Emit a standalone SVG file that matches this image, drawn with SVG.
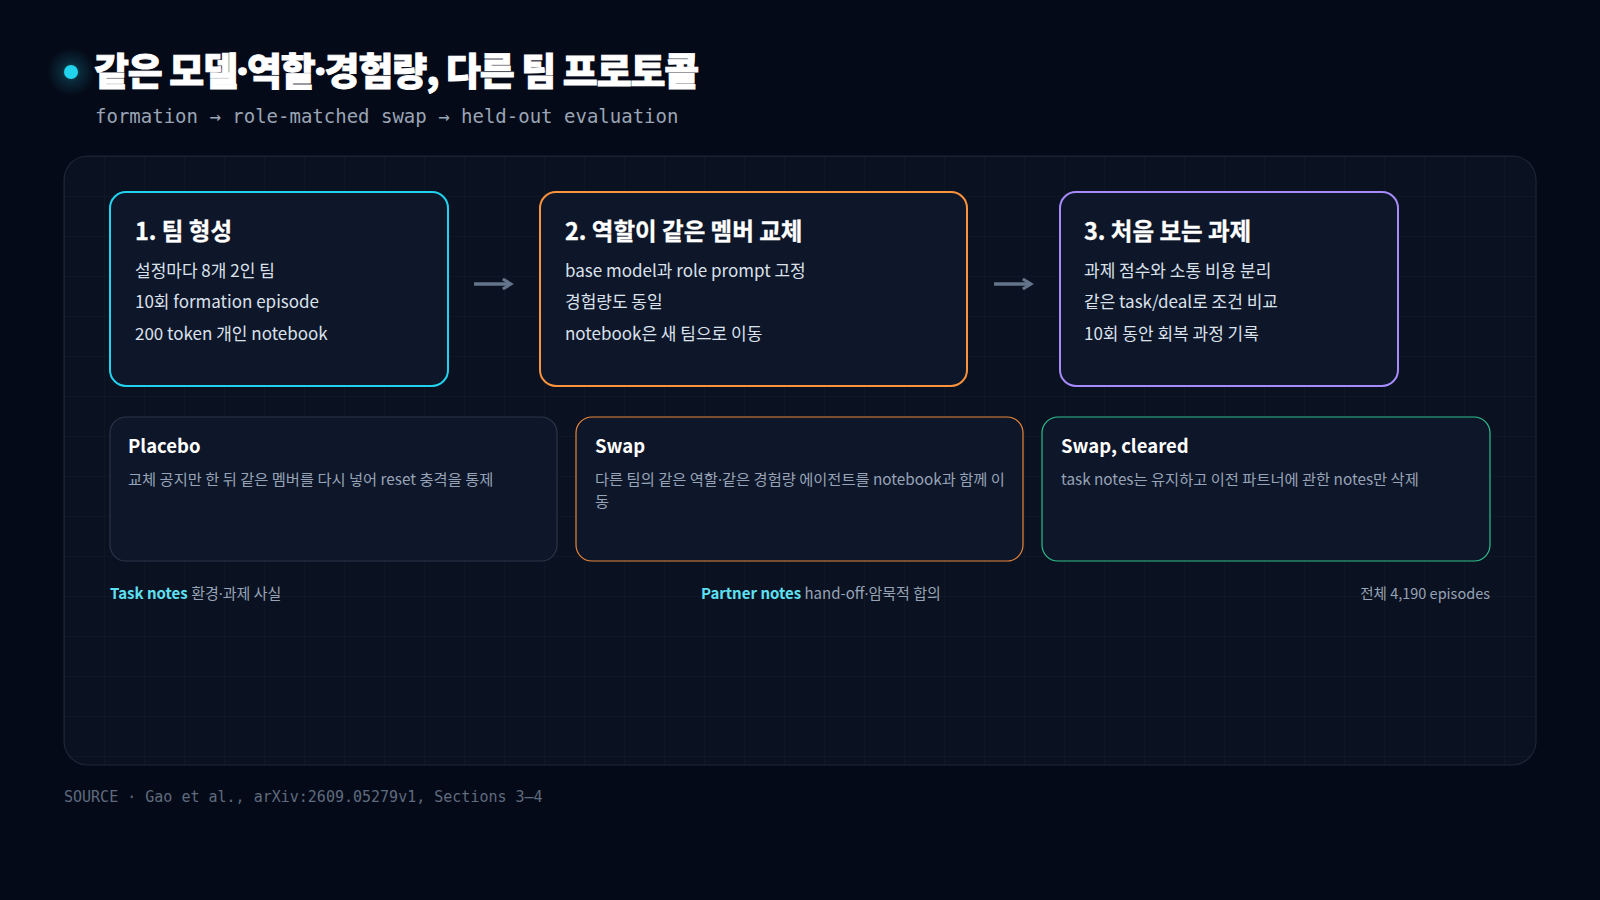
<svg xmlns="http://www.w3.org/2000/svg" width="1600" height="900" viewBox="0 0 1600 900">
  <defs>
    <style>
      .kr { font-family: "Noto Sans CJK KR", "Noto Sans", sans-serif; }
      .mono { font-family: "DejaVu Sans Mono", "Liberation Mono", monospace; }
      .dot { font-family: "Noto Sans", "Liberation Sans", sans-serif; }
      .title { font-size: 38px; font-weight: 900; fill: #ffffff; stroke: #ffffff; stroke-width: 0.9px; letter-spacing: -1.1px; }
      .sub { font-size: 19px; fill: #9aa5b5; }
      .ctitle { font-size: 23.5px; font-weight: 700; fill: #ffffff; stroke: #ffffff; stroke-width: 0.3px; }
      .cbody { font-size: 17px; fill: #dbe2ec; }
      .ntitle { font-size: 18.5px; font-weight: 700; fill: #ffffff; }
      .nbody { font-size: 15.3px; fill: #97a3b6; }
      .lbl { font-size: 15px; fill: #97a3b6; }
      .lblk { font-weight: 700; fill: #5ee0f2; }
      .src { font-size: 15px; fill: #5f6b7e; }
      .card { fill: #0e1629; stroke-width: 2; }
      .note { fill: #0e1629; stroke-width: 1.2; }
      .conn { stroke: #64748b; stroke-width: 3.5; fill: none; stroke-linecap: butt; }
    </style>
    <pattern id="grid" x="64" y="156" width="40" height="40" patternUnits="userSpaceOnUse">
      <path d="M 40 0 L 0 0 0 40" fill="none" stroke="#94a3b8" stroke-opacity="0.07" stroke-width="1"/>
    </pattern>
    <radialGradient id="glow" cx="0.5" cy="0.5" r="0.5">
      <stop offset="0" stop-color="#22d3ee" stop-opacity="0.45"/>
      <stop offset="0.4" stop-color="#22d3ee" stop-opacity="0.15"/>
      <stop offset="1" stop-color="#22d3ee" stop-opacity="0"/>
    </radialGradient>
    <marker id="ah" viewBox="0 0 10 10" refX="8" refY="5" markerWidth="3.6" markerHeight="3.6" orient="auto" markerUnits="strokeWidth">
      <path d="M 1.5 1 L 8 5 L 1.5 9" fill="none" stroke="#64748b" stroke-width="2.4" stroke-linejoin="miter"/>
    </marker>
  </defs>

  <rect width="1600" height="900" fill="#050a18"/>

  <g id="header">
    <circle cx="71" cy="72" r="24" fill="url(#glow)"/>
    <circle cx="71" cy="72" r="7" fill="#22d3ee"/>
    <text class="kr title" x="94" y="85">같은 모델<tspan class="dot">·</tspan>역할<tspan class="dot">·</tspan>경험량, 다른 팀 프로토콜</text>
    <text class="mono sub" x="95" y="123">formation → role-matched swap → held-out evaluation</text>
  </g>

  <g id="panel">
    <rect x="64" y="156" width="1472" height="609" rx="24" fill="#0a1120" stroke="#1c2536" stroke-width="1.2"/>
    <rect x="64" y="156" width="1472" height="609" rx="24" fill="url(#grid)"/>
  </g>

  <g id="connectors">
    <path class="conn" d="M 474 284 L 511 284" marker-end="url(#ah)"/>
    <path class="conn" d="M 994 284 L 1031 284" marker-end="url(#ah)"/>
  </g>

  <g id="step1">
    <rect class="card" x="110" y="192" width="338" height="194" rx="16" stroke="#22d3ee"/>
    <text class="kr ctitle" x="135" y="240">1. 팀 형성</text>
    <text class="kr cbody" x="135" y="277">설정마다 8개 2인 팀</text>
    <text class="kr cbody" x="135" y="308">10회 formation episode</text>
    <text class="kr cbody" x="135" y="340">200 token 개인 notebook</text>
  </g>

  <g id="step2">
    <rect class="card" x="540" y="192" width="427" height="194" rx="16" stroke="#fb923c"/>
    <text class="kr ctitle" x="565" y="240">2. 역할이 같은 멤버 교체</text>
    <text class="kr cbody" x="565" y="277">base model과 role prompt 고정</text>
    <text class="kr cbody" x="565" y="308">경험량도 동일</text>
    <text class="kr cbody" x="565" y="340">notebook은 새 팀으로 이동</text>
  </g>

  <g id="step3">
    <rect class="card" x="1060" y="192" width="338" height="194" rx="16" stroke="#a78bfa"/>
    <text class="kr ctitle" x="1084" y="240">3. 처음 보는 과제</text>
    <text class="kr cbody" x="1084" y="277">과제 점수와 소통 비용 분리</text>
    <text class="kr cbody" x="1084" y="308">같은 task/deal로 조건 비교</text>
    <text class="kr cbody" x="1084" y="340">10회 동안 회복 과정 기록</text>
  </g>

  <g id="placebo">
    <rect class="note" x="110" y="417" width="447" height="144" rx="16" stroke="#2b3547"/>
    <text class="kr ntitle" x="128" y="453">Placebo</text>
    <text class="kr nbody" x="128" y="485">교체 공지만 한 뒤 같은 멤버를 다시 넣어 reset 충격을 통제</text>
  </g>

  <g id="swap">
    <rect class="note" x="576" y="417" width="447" height="144" rx="16" stroke="#e8873a"/>
    <text class="kr ntitle" x="595" y="453">Swap</text>
    <text class="kr nbody" x="595" y="485">다른 팀의 같은 역할<tspan class="dot">·</tspan>같은 경험량 에이전트를 notebook과 함께 이</text>
    <text class="kr nbody" x="595" y="507">동</text>
  </g>

  <g id="swap-cleared">
    <rect class="note" x="1042" y="417" width="448" height="144" rx="16" stroke="#2fbf8c"/>
    <text class="kr ntitle" x="1061" y="453">Swap, cleared</text>
    <text class="kr nbody" x="1061" y="485">task notes는 유지하고 이전 파트너에 관한 notes만 삭제</text>
  </g>

  <g id="legend">
    <text class="kr lbl" x="110" y="599"><tspan class="lblk">Task notes</tspan> 환경<tspan class="dot">·</tspan>과제 사실</text>
    <text class="kr lbl" x="701" y="599"><tspan class="lblk">Partner notes</tspan> hand-off<tspan class="dot">·</tspan>암묵적 합의</text>
    <text class="kr lbl" x="1490" y="599" text-anchor="end" style="font-size:14.5px">전체 4,190 episodes</text>
  </g>

  <g id="footer">
    <text class="mono src" x="64" y="802">SOURCE · Gao et al., arXiv:2609.05279v1, Sections 3–4</text>
  </g>
</svg>
